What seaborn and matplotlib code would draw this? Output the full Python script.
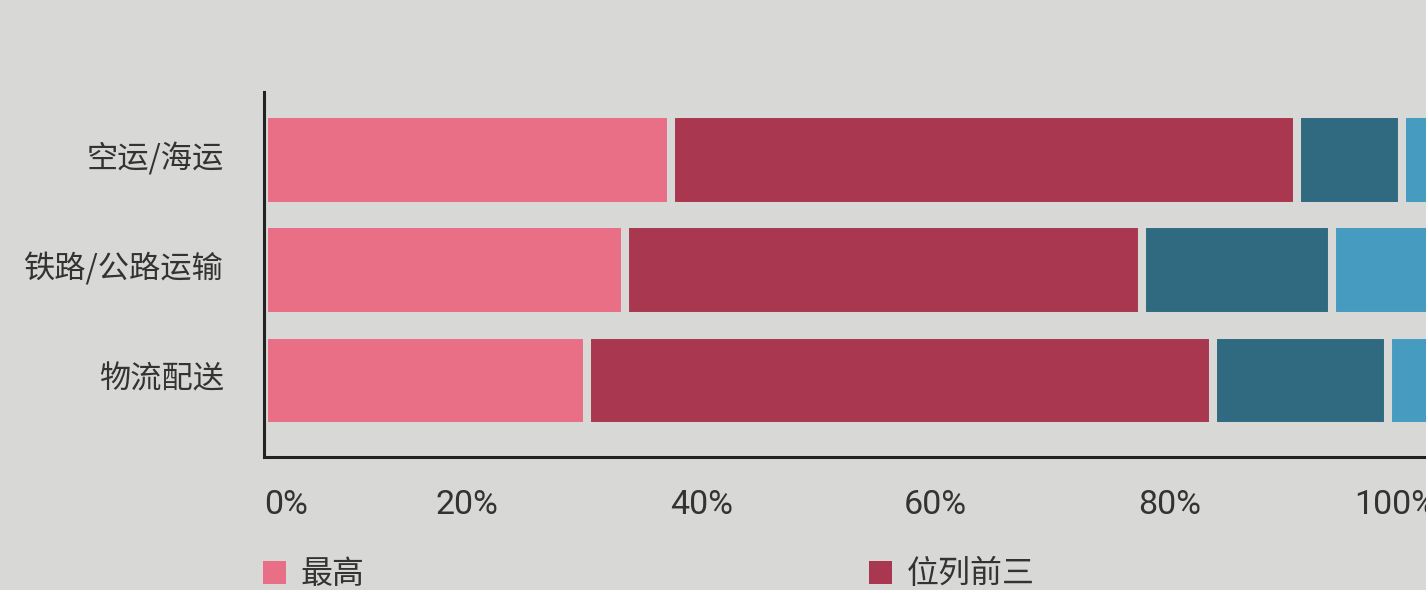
import numpy as np
import pandas as pd
import matplotlib
matplotlib.use("Agg")
import matplotlib.pyplot as plt
import matplotlib.transforms as mtransforms
from matplotlib import font_manager
from matplotlib.patches import Patch
import seaborn as sns

# data (percent of respondents)
categories = ['空运/海运', '铁路/公路运输', '物流配送']
series = ['最高', '位列前三', '位列前五', '其他']
top1 = [34.7, 30.8, 27.6]
top3 = [53.4, 44.1, 53.4]
top5 = [9.0, 16.2, 14.9]
other = [2.9, 8.9, 4.1]
ticks = [0, 20, 40, 60, 80, 100]
tick_labels = ['0%', '20%', '40%', '60%', '80%', '100%']

colors = ['#E96F86', '#A8374F', '#2F6A80', '#469CC0']
bg = '#D8D8D6'
ink = '#333333'

sns.set_theme(style='white')
installed = {f.name for f in font_manager.fontManager.ttflist}
num_font = 'Liberation Sans Narrow' if 'Liberation Sans Narrow' in installed else 'Roboto'
plt.rcParams['font.family'] = ['Noto Sans CJK SC', 'DejaVu Sans']

df = pd.DataFrame({'category': categories, '最高': top1, '位列前三': top3,
                   '位列前五': top5, '其他': other})
cum = df[series].cumsum(axis=1)

fig = plt.figure(figsize=(14.26, 5.90), dpi=100, facecolor=bg)
ax = fig.add_axes([264 / 1426, 1 - 457 / 590, 1172 / 1426, 365 / 590])
ax.set_facecolor(bg)

# stacked bars: draw cumulative totals from the longest down
for name, col in reversed(list(zip(series, colors))):
    sns.barplot(x=cum[name], y=df['category'], color=col, orient='h',
                width=0.834, edgecolor=bg, linewidth=5.8, ax=ax,
                saturation=1)

ax.set_xlim(0, 100)
ax.set_ylim(2.694, -0.617)
ax.set_xlabel('')
ax.set_ylabel('')

for side in ['top', 'right']:
    ax.spines[side].set_visible(False)
for side in ['left', 'bottom']:
    ax.spines[side].set_color('#222222')
    ax.spines[side].set_linewidth(2.2)
    ax.spines[side].set_zorder(5)

ax.set_xticks(ticks)
ax.set_xticklabels(tick_labels, fontfamily=num_font, fontsize=24.5, color=ink)
ax.tick_params(axis='x', direction='in', length=11.5, width=1.6,
               color='#222222', pad=23)
ax.tick_params(axis='y', length=0, pad=29, labelsize=22.5, labelcolor=ink)
shift_up = mtransforms.ScaledTranslation(0, 5 / 100, fig.dpi_scale_trans)
for lbl in ax.get_yticklabels():
    lbl.set_fontweight('light')
    lbl.set_transform(lbl.get_transform() + shift_up)
for i, lbl in enumerate(ax.get_xticklabels()):
    lbl.set_ha('left' if i == 0 else 'right')

# only the first two legend entries fall inside the visible canvas
handles = [Patch(facecolor=c, edgecolor='none') for c in colors[:2]]
leg = fig.legend(handles, series[:2], loc='center left',
                 bbox_to_anchor=(263 / 1426, 1 - 574.5 / 590),
                 bbox_transform=fig.transFigure, ncol=2, frameon=False,
                 fontsize=23, handlelength=0.72, handleheight=0.72,
                 handletextpad=0.45, columnspacing=15.8,
                 borderpad=0, borderaxespad=0)
for t in leg.get_texts():
    t.set_color(ink)
    t.set_fontweight('light')

fig.savefig('out.png', dpi=100, facecolor=bg)
